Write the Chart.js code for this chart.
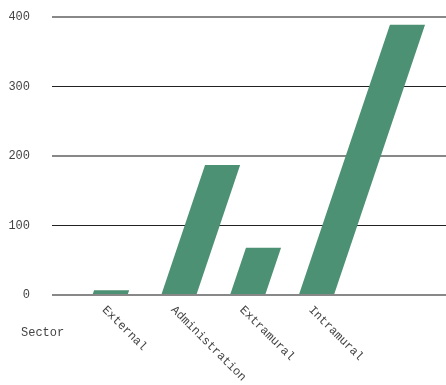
<!DOCTYPE html>
<html>
<head>
<meta charset="utf-8">
<script src="https://cdn.jsdelivr.net/npm/chart.js@4"></script>
<style>
  html, body { margin: 0; padding: 0; background: #fff; }
  #wrap { width: 446px; height: 385px; }
</style>
</head>
<body>
<div id="wrap"><canvas id="chart" width="446" height="385"></canvas></div>
<script>
const sectors = ['External', 'Administration', 'Extramural', 'Intramural'];
const amounts = [7, 187, 68, 389];
const yTicks = [0, 100, 200, 300, 400];
const axisTitle = 'Sector';

const FONT = "'Liberation Mono', 'DejaVu Sans Mono', monospace";
const SHEAR = 0.337;

// bars lean to the right, pivoting on the zero line
const shearPlugin = {
    id: 'shear',
    beforeDatasetsDraw(chart) {
        const y0 = chart.scales.y.getPixelForValue(0);
        chart.ctx.save();
        chart.ctx.transform(1, 0, -SHEAR, 1, SHEAR * y0, 0);
    },
    afterDatasetsDraw(chart) {
        chart.ctx.restore();
    }
};

// slanted category labels + the axis title on the left
const labelPlugin = {
    id: 'labels',
    afterDraw(chart) {
        const ctx = chart.ctx;
        const x = chart.scales.x;
        const y0 = chart.scales.y.getPixelForValue(0);
        ctx.save();
        ctx.font = '12px ' + FONT;
        ctx.fillStyle = '#444';
        ctx.textBaseline = 'middle';
        ctx.textAlign = 'left';
        sectors.forEach((s, i) => {
            ctx.save();
            ctx.translate(x.getPixelForValue(i) - 6, y0 + 13);
            ctx.rotate(Math.PI / 4);
            ctx.fillText(s, 0, 0);
            ctx.restore();
        });
        ctx.fillText(axisTitle, 21, y0 + 38);
        ctx.restore();
    }
};

new Chart(document.getElementById('chart').getContext('2d'), {
    type: 'bar',
    data: {
        datasets: [{
            data: sectors.map((s, i) => ({ x: i, y: amounts[i] })),
            backgroundColor: '#4c9173',
            borderWidth: 0,
            barPercentage: 1,
            categoryPercentage: 0.51
        }]
    },
    options: {
        responsive: false,
        animation: false,
        layout: { padding: { left: 8, right: 0, top: 17, bottom: 90 } },
        plugins: { legend: { display: false }, tooltip: { enabled: false } },
        scales: {
            x: {
                type: 'linear',
                min: -0.843,
                max: 4.884,
                offset: false,
                display: false,
                afterBuildTicks: axis => { axis.ticks = sectors.map((s, i) => ({ value: i })); }
            },
            y: {
                min: 0,
                max: 400,
                afterBuildTicks: axis => { axis.ticks = yTicks.map(v => ({ value: v })); },
                afterFit: axis => {
                    axis.width = 44;
                    axis.paddingTop = 0;
                    axis.paddingBottom = 0;
                },
                ticks: {
                    padding: 22,
                    color: '#444',
                    font: { family: FONT, size: 12 }
                },
                grid: {
                    drawTicks: false,
                    color: c => (c.tick && c.tick.value % 200 === 0) ? '#888' : '#222',
                    lineWidth: c => (c.tick && c.tick.value % 200 === 0) ? 2 : 1
                },
                border: { display: false }
            }
        }
    },
    plugins: [shearPlugin, labelPlugin]
});
</script>
</body>
</html>
